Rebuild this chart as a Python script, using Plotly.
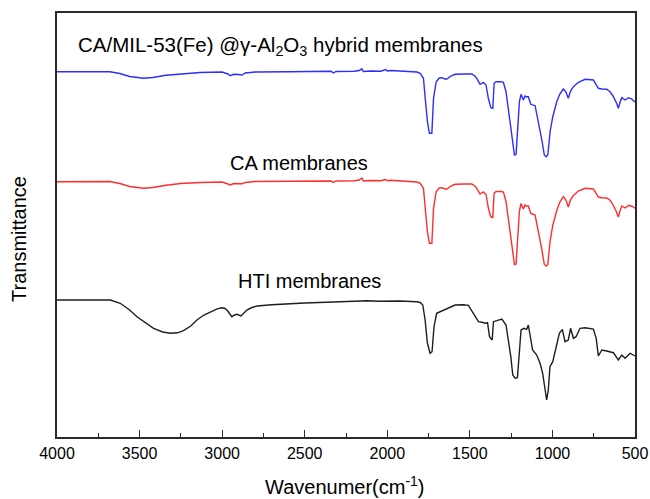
import plotly.graph_objects as go

# Wavenumbers (cm^-1) and offset transmittance (a.u.)
wn_hybrid = [4000, 3800, 3680, 3620, 3560, 3476, 3420, 3340, 3250, 3133, 3000, 2965, 2951, 2930, 2900, 2880, 2860, 2800,
             2600, 2400, 2340, 2327, 2310, 2200, 2170, 2154, 2145, 2100, 2040, 2010, 2000, 1980, 1923, 1860, 1820, 1801,
             1781, 1771, 1757, 1745, 1730, 1720, 1704, 1685, 1670, 1650, 1639, 1615, 1589, 1530, 1488, 1470, 1458, 1438,
             1418, 1402, 1388, 1373, 1361, 1353, 1341, 1310, 1297, 1281, 1267, 1256, 1240, 1230, 1220, 1210, 1200, 1190,
             1176, 1166, 1159, 1146, 1131, 1105, 1085, 1064, 1049, 1038, 1028, 1014, 998, 974, 955, 934, 918, 904, 890,
             873, 843, 802, 752, 735, 722, 700, 671, 650, 631, 612, 601, 590, 580, 560, 540, 520, 510, 500]
t_hybrid = [365.3, 365.3, 365.3, 363.5, 360.5, 358.7, 359.5, 361.8, 363.2, 364.5, 365, 363, 361.3, 362.7, 362.5, 362, 364, 365,
            365.3, 365.7, 365.7, 364, 365.5, 365.8, 366.5, 368.2, 365.5, 366, 365.8, 367.5, 366, 366.5, 366, 365.8, 365, 363.7,
            358.7, 340.3, 315.3, 303.7, 303.7, 338.7, 355.3, 359, 359.3, 358, 358, 361, 362.7, 363, 363, 361, 358.7, 352.7,
            354.7, 352, 338.7, 329.3, 328.7, 353.7, 355.3, 355.3, 354.7, 345.3, 328.7, 315.3, 292, 282, 282.7, 308.7, 335.3, 342.7,
            337, 341, 340.3, 340.3, 332.7, 331.3, 315.3, 297, 282, 280.3, 282, 305.3, 320.3, 335.3, 343, 348, 345, 338.7, 346,
            350.3, 354.7, 357.7, 357, 353, 348.7, 348, 347.7, 345, 340.3, 334, 328.7, 335, 339.3, 337, 339.3, 338, 336, 335]

wn_ca = wn_hybrid
t_ca = [255.3, 255.3, 255.5, 253.5, 250.5, 248.7, 249.5, 251.8, 253.5, 254.5, 255, 253, 252, 253.5, 253.5, 253.2, 254.5, 255.5,
        255.8, 256, 256, 254.5, 256, 256.3, 257, 259, 256, 256.5, 256.2, 257.5, 256.3, 256.8, 256, 255.8, 255, 253.7,
        248.7, 230.3, 205.3, 193.7, 193.7, 228.7, 245.3, 249, 249.3, 248, 248, 251, 252.7, 253, 253, 251, 248.7, 243,
        245, 242.5, 229, 220, 219.5, 244, 245.5, 245.5, 245, 235.5, 219, 205.5, 182.5, 172.5, 173, 199, 226, 233.5,
        228, 232, 231, 231, 223.5, 222, 206, 187.5, 172.5, 171, 172.5, 196, 211.5, 226.5, 235, 240.3, 237, 230, 237.5,
        241.5, 246, 248.7, 248, 244, 240, 239.3, 239, 236.5, 231.5, 225, 220, 226.5, 231, 229, 231.5, 231, 229.5, 228.7]

wn_hti = [4000, 3800, 3677, 3617, 3560, 3516, 3460, 3415, 3360, 3314, 3270, 3234, 3190, 3153, 3110, 3072, 3030, 3001, 2985,
          2971, 2955, 2941, 2925, 2910, 2886, 2870, 2850, 2820, 2789, 2700, 2628, 2500, 2326, 2200, 2124, 2050, 1922, 1821,
          1800, 1785, 1771, 1757, 1741, 1729, 1717, 1701, 1670, 1639, 1589, 1540, 1509, 1479, 1448, 1420, 1408, 1393, 1381,
          1365, 1357, 1337, 1306, 1281, 1267, 1252, 1240, 1226, 1212, 1200, 1190, 1172, 1156, 1146, 1136, 1120, 1095, 1075,
          1059, 1045, 1035, 1025, 1015, 998, 978, 958, 940, 924, 904, 890, 873, 857, 833, 802, 752, 735, 722, 701, 671, 631,
          601, 580, 560, 530, 510, 500]
t_hti = [137, 137, 137, 133.7, 127, 120.3, 113.5, 108.7, 105, 103.7, 104.2, 106.3, 111, 117, 122, 125.3, 128.2, 129.3, 128.8,
         127, 123, 120.3, 122, 122.7, 121, 123.5, 127, 129.5, 131, 132.2, 133, 134, 135, 136, 136.3, 135.8, 136, 135.3,
         134.5, 132, 117, 93.7, 83.7, 85.3, 110.3, 123.7, 126, 127.7, 132, 132.2, 131.7, 123.7, 115.3, 114.5, 113.7, 114.3, 100.3,
         97, 115.3, 116.3, 118, 112, 97, 80.3, 62, 58.7, 59.3, 90.3, 107, 108.7, 107.7, 112, 103.7, 87, 82, 73.7,
         63.7, 47, 37, 47, 70.3, 75.3, 90.3, 103.7, 107.7, 95.3, 97, 108.7, 98.7, 100.3, 108.7, 109.3, 108, 98.7, 81, 87, 86, 84.3,
         77, 82, 78.7, 83.7, 82, 81]

x_ticks = [4000, 3500, 3000, 2500, 2000, 1500, 1000, 500]
x_tick_labels = ["4000", "3500", "3000", "2500", "2000", "1500", "1000", "500"]

FONT = "Liberation Sans, Arial, sans-serif"
AXIS_COLOR = "#2a2a2a"

fig = go.Figure()
fig.add_trace(go.Scatter(x=wn_hybrid, y=t_hybrid, mode="lines",
                         line=dict(color="rgb(45,45,255)", width=1.4), showlegend=False))
fig.add_trace(go.Scatter(x=wn_ca, y=t_ca, mode="lines",
                         line=dict(color="rgb(255,45,45)", width=1.4), showlegend=False))
fig.add_trace(go.Scatter(x=wn_hti, y=t_hti, mode="lines",
                         line=dict(color="rgb(30,30,30)", width=1.4), showlegend=False))

fig.update_layout(
    width=650, height=499,
    margin=dict(l=57, r=15, t=13, b=62, autoexpand=False),
    paper_bgcolor="white", plot_bgcolor="white",
    font=dict(family=FONT, color="black"),
    xaxis=dict(range=[4000, 500], tickvals=x_ticks, ticktext=x_tick_labels,
               ticks="inside", ticklen=7, tickwidth=1.3, tickcolor=AXIS_COLOR,
               minor=dict(dtick=250, tick0=0, ticks="inside", ticklen=4, tickwidth=1.3, tickcolor=AXIS_COLOR),
               showline=True, linecolor=AXIS_COLOR, linewidth=1.6, mirror=True,
               showgrid=False, zeroline=False, tickfont=dict(size=16, family=FONT),
               ticklabelstandoff=1, automargin=False),
    yaxis=dict(range=[0, 424], showticklabels=False, ticks="",
               showline=True, linecolor=AXIS_COLOR, linewidth=1.6, mirror=True,
               showgrid=False, zeroline=False, automargin=False),
    annotations=[
        dict(text="CA/MIL-53(Fe) @γ-Al<sub>2</sub>O<sub>3</sub> hybrid membranes", xref="paper", yref="paper",
             x=(76 - 57) / 578, y=(437 - 46) / 424, xanchor="left", yanchor="middle",
             showarrow=False, font=dict(size=20.5, family=FONT)),
        dict(text="CA membranes", xref="paper", yref="paper",
             x=(299 - 57) / 578, y=(437 - 163) / 424, xanchor="center", yanchor="middle",
             showarrow=False, font=dict(size=20, family=FONT)),
        dict(text="HTI membranes", xref="paper", yref="paper",
             x=(309 - 57) / 578, y=(437 - 281) / 424, xanchor="center", yanchor="middle",
             showarrow=False, font=dict(size=20, family=FONT)),
        dict(text="Transmittance", xref="paper", yref="paper", textangle=-90,
             x=(19 - 57) / 578, y=(437 - 239) / 424, xanchor="center", yanchor="middle",
             showarrow=False, font=dict(size=20, family=FONT)),
        dict(text="Wavenumer(cm<sup>-1</sup>)", xref="paper", yref="paper",
             x=(345 - 57) / 578, y=(437 - 486) / 424, xanchor="center", yanchor="middle",
             showarrow=False, font=dict(size=20, family=FONT)),
    ],
)

fig.write_html("out.html")
